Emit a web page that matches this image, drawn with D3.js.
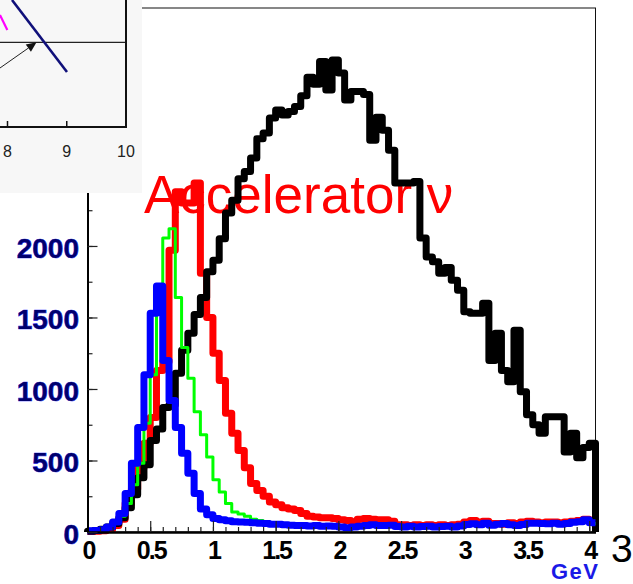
<!DOCTYPE html>
<html><head><meta charset="utf-8">
<script src="https://cdn.jsdelivr.net/npm/d3@7"></script>
<style>html,body{margin:0;padding:0;background:#fff;overflow:hidden}</style>
</head><body>
<svg id="c" width="633" height="584"></svg>
<script>
// ---- data (counts per 0.05 GeV bin, 0 .. 4.05 GeV) ----
const binWidth = 0.05;
const blackCounts = [5,10,20,35,60,100,170,260,380,470,640,720,870,890,1110,1270,1390,1520,1640,1820,
  1900,2050,2230,2320,2470,2520,2615,2750,2790,2895,2950,2915,2940,2975,3050,3180,3130,3290,3090,3300,
  3210,3020,3080,3080,3060,2740,2900,2810,2670,2440,2440,2440,2450,2055,1923,1890,1810,1850,1760,1690,
  1540,1530,1530,1600,1200,1390,1130,1050,1410,980,820,750,690,805,805,805,560,690,520,590,620];
const redCounts = [3,5,8,20,45,90,200,300,450,620,800,1130,1190,1970,2380,2300,2300,2440,1810,1500,
  1250,1060,830,690,570,450,340,290,250,210,190,170,160,150,130,110,105,100,100,95,
  85,80,70,90,95,90,85,85,75,50,50,45,50,45,50,45,50,45,50,55,
  70,80,70,75,60,60,55,65,60,70,75,70,65,70,70,65,70,75,80,90,80];
const greenCounts = [5,8,12,30,60,110,200,330,480,760,1100,1530,2055,2120,1640,1290,1075,840,680,525,
  365,280,200,140,125,110,90,80,70,62,58,52,50,48,45,42,42,38,40,38,
  33,28,32,36,42,46,42,42,44,34,32,36,32,34,36,32,34,36,32,38,
  46,52,46,56,44,50,54,46,42,48,56,56,54,52,56,50,54,60,64,72,60];
const blueCounts = [8,10,15,35,70,130,270,480,730,1100,1530,1720,1200,920,730,550,410,270,160,120,
  95,85,78,72,70,68,65,62,60,55,55,50,48,45,45,42,45,40,42,40,
  35,30,35,40,45,50,45,45,48,38,35,40,35,38,40,35,38,40,35,42,
  52,58,50,62,48,55,60,50,45,52,62,62,60,58,62,55,60,68,72,85,65];
const xTicks = [0,0.5,1,1.5,2,2.5,3,3.5,4];
const xTickLabels = ["0","0.5","1","1.5","2","2.5","3","3.5","4"];
const yTicks = [0,500,1000,1500,2000,2500,3000,3500];
const yTickLabels = ["0","500","1000","1500","2000","2500","3000","3500"];
const titleText = "Accelerator \u03bd";
const unitText = "GeV";
const strayText = "3";
// inset (cropped picture of another plot)
const insetTicks = [8,9,10];
const insetTickLabels = ["8","9","10"];
const insetNavy = [[8.076,0.5],[9.004,-0.35]];
const insetMagenta = [[7.873,0.322],[7.997,0.145]];
const insetArrow = [[7.873,-0.303],[8.49,0]];
const insetLevel = 0;

const svg = d3.select("#c");
const F = "'Liberation Sans', Arial, Helvetica, sans-serif";

const x = d3.scaleLinear().domain([0, 4.05]).range([87.5, 595.5]);
const y = d3.scaleLinear().domain([0, 3664]).range([532, 8]);

// frame (top/right)
svg.append("rect").attr("x", x(0)).attr("y", y(3664)).attr("width", x(4.05)-x(0)).attr("height", y(0)-y(3664))
  .attr("fill","none").attr("stroke","#111").attr("stroke-width",1);

// title
svg.append("text").attr("x",144).attr("y",213).attr("font-family",F).attr("font-size",53)
  .attr("fill","#ff0000").text(titleText);

// histograms
function stepPoints(counts, dropEnds){
  const pts = [];
  if (dropEnds) pts.push([0,0]);
  counts.forEach((c,i)=>{ pts.push([i*binWidth, c]); pts.push([(i+1)*binWidth, c]); });
  if (dropEnds) pts.push([counts.length*binWidth, 0]);
  return pts;
}
const line = d3.line().x(d=>x(d[0])).y(d=>y(d[1]));
const series = [
  {c: redCounts, col:"#ff0000", w:7, drop:false},
  {c: blackCounts, col:"#000000", w:7, drop:true},
  {c: greenCounts, col:"#00ff00", w:3, drop:false},
  {c: blueCounts, col:"#0000ff", w:7, drop:false}
];
series.forEach(s=>{
  svg.append("path").attr("d", line(stepPoints(s.c, s.drop)))
    .attr("fill","none").attr("stroke", s.col).attr("stroke-width", s.w)
    .attr("stroke-linejoin","round");
});

// axes
const minorX = d3.range(0, 4.051, 0.1).map(v=>+v.toFixed(2));
const minorY = d3.range(0, 3664, 250);
const gx = svg.append("g").attr("transform",`translate(0,${y(0)})`);
gx.call(d3.axisBottom(x).tickValues(minorX).tickSize(-5).tickSizeOuter(0).tickFormat(""));
gx.append("g").call(d3.axisBottom(x).tickValues(xTicks).tickSize(-11).tickSizeOuter(0).tickFormat(""));
gx.selectAll("path.domain").attr("stroke","#000").attr("stroke-width",2);
gx.selectAll("line").attr("stroke","#222").attr("stroke-width",1.2);

const gy = svg.append("g").attr("transform",`translate(${x(0)},0)`);
gy.call(d3.axisLeft(y).tickValues(minorY).tickSize(-5).tickSizeOuter(0).tickFormat(""));
gy.append("g").call(d3.axisLeft(y).tickValues(yTicks).tickSize(-10).tickSizeOuter(0).tickFormat(""));
gy.selectAll("path.domain").attr("stroke","#000").attr("stroke-width",2);
gy.selectAll("line").attr("stroke","#222").attr("stroke-width",1.2);

// tick labels
svg.append("g").selectAll("text").data(xTicks).join("text")
  .attr("x", d=>x(d)+1).attr("y", 559).attr("text-anchor","middle")
  .attr("font-family",F).attr("font-weight","bold").attr("font-size",25)
  .attr("letter-spacing","-2px").attr("fill","#000")
  .text((d,i)=>xTickLabels[i]);
svg.append("g").selectAll("text").data(yTicks).join("text")
  .attr("x", 79).attr("y", d=>y(d)+12).attr("text-anchor","end")
  .attr("font-family",F).attr("font-weight","bold").attr("font-size",28)
  .attr("fill","#00006e").attr("stroke","#2a2aff").attr("stroke-width",0.7)
  .attr("paint-order","stroke")
  .text((d,i)=>yTickLabels[i]);

// inset
const ix = d3.scaleLinear().domain([8,10]).range([7.5,126]);
const iy = d3.scaleLinear().domain([-1,0.5]).range([127,0]);
const inset = svg.append("g");
inset.append("defs").append("clipPath").attr("id","ic").append("rect")
  .attr("x",0).attr("y",0).attr("width",142).attr("height",193);
inset.append("rect").attr("x",0).attr("y",0).attr("width",142).attr("height",193).attr("fill","#f7f7f7");
const ig = inset.append("g").attr("clip-path","url(#ic)");
const iline = d3.line().x(d=>ix(d[0])).y(d=>iy(d[1]));
ig.append("line").attr("x1",0).attr("x2",ix(10)).attr("y1",iy(insetLevel)).attr("y2",iy(insetLevel))
  .attr("stroke","#222").attr("stroke-width",1.3);
ig.append("path").attr("d",iline(insetNavy)).attr("stroke","#10107a").attr("stroke-width",2.6).attr("fill","none");
ig.append("path").attr("d",iline(insetMagenta)).attr("stroke","#ff00ff").attr("stroke-width",2.2).attr("fill","none");
// arrow
const a0 = insetArrow[0], a1 = insetArrow[1];
const p0 = [ix(a0[0]), iy(a0[1])], p1 = [ix(a1[0]), iy(a1[1])];
const ang = Math.atan2(p1[1]-p0[1], p1[0]-p0[0]);
const hl = 10, hw = 4.5;
const base = [p1[0]-hl*Math.cos(ang), p1[1]-hl*Math.sin(ang)];
ig.append("line").attr("x1",p0[0]).attr("y1",p0[1]).attr("x2",base[0]).attr("y2",base[1])
  .attr("stroke","#222").attr("stroke-width",1);
ig.append("path").attr("d",`M${p1[0]},${p1[1]}L${base[0]-hw*Math.sin(ang)},${base[1]+hw*Math.cos(ang)}L${base[0]+hw*Math.sin(ang)},${base[1]-hw*Math.cos(ang)}Z`)
  .attr("fill","#111");
// inset frame
ig.append("path").attr("d",`M${ix(10)},0V${iy(-1)}H0`).attr("fill","none").attr("stroke","#111").attr("stroke-width",2);
ig.selectAll("line.t").data(insetTicks).join("line").attr("class","t")
  .attr("x1",d=>ix(d)).attr("x2",d=>ix(d)).attr("y1",iy(-1)).attr("y2",iy(-1)-6)
  .attr("stroke","#111").attr("stroke-width",1.5);
ig.selectAll("text").data(insetTicks).join("text")
  .attr("x",d=>ix(d)).attr("y",157).attr("text-anchor","middle")
  .attr("font-family",F).attr("font-size",16).attr("fill","#222")
  .text((d,i)=>insetTickLabels[i]);

// unit & stray text
svg.append("text").attr("x",551).attr("y",579).attr("font-family",F).attr("font-weight","bold")
  .attr("font-size",22).attr("letter-spacing","1.5px").attr("fill","#1a1ae6").text(unitText);
svg.append("text").attr("x",611).attr("y",562).attr("font-family",F)
  .attr("font-size",39).attr("fill","#000").text(strayText);
</script>
</body></html>
